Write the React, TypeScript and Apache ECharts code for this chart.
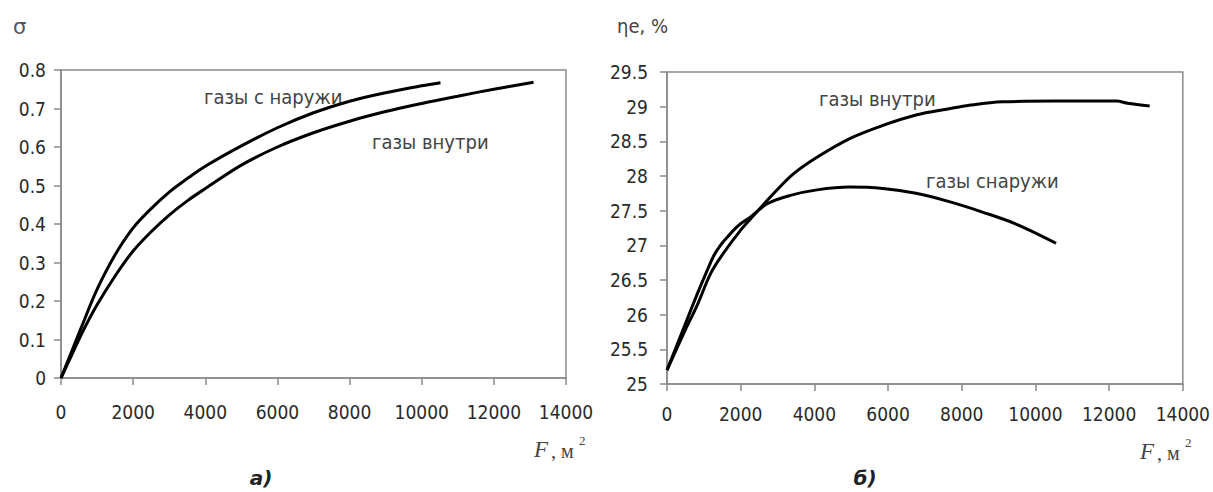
import React, { useEffect, useRef } from "react";
import * as echarts from "echarts";

// ---- data ----
const xTicks = [0, 2000, 4000, 6000, 8000, 10000, 12000, 14000];

// chart a) sigma vs F
const fOutsideA = [0, 300, 600, 1000, 1500, 2000, 2500, 3000, 3500, 4000, 5000, 6000, 7000, 8000, 9000, 10000, 10520];
const sigmaOutside = [0, 0.07, 0.14, 0.23, 0.32, 0.39, 0.44, 0.483, 0.518, 0.55, 0.603, 0.65, 0.689, 0.719, 0.741, 0.759, 0.767];
const fInsideA = [0, 300, 600, 1000, 1500, 2000, 2500, 3000, 3500, 4000, 5000, 6000, 7000, 8000, 9000, 10000, 11000, 12000, 13100];
const sigmaInside = [0, 0.06, 0.12, 0.19, 0.265, 0.33, 0.38, 0.423, 0.46, 0.492, 0.553, 0.6, 0.637, 0.667, 0.692, 0.713, 0.732, 0.75, 0.768];

// chart б) eta_e vs F
const fInsideB = [0, 470, 830, 1190, 1550, 2000, 2300, 2900, 3430, 4070, 4960, 5860, 6760, 7660, 8200, 9100, 10500, 12200, 12500, 13100];
const etaInside = [25.2, 25.75, 26.15, 26.6, 26.9, 27.22, 27.4, 27.75, 28.03, 28.27, 28.54, 28.73, 28.88, 28.97, 29.02, 29.07, 29.08, 29.08, 29.05, 29.01];
const fOutsideB = [0, 470, 830, 1100, 1280, 1450, 1640, 1950, 2270, 2720, 3350, 4070, 4960, 5860, 6760, 7660, 8560, 9460, 10560];
const etaOutside = [25.2, 25.83, 26.31, 26.65, 26.86, 27.0, 27.12, 27.29, 27.41, 27.6, 27.72, 27.8, 27.84, 27.82, 27.75, 27.63, 27.48, 27.31, 27.03];

const labelOutsideA = "газы с наружи";
const labelInsideA = "газы внутри";
const labelInsideB = "газы внутри";
const labelOutsideB = "газы снаружи";

const zip = (xs: number[], ys: number[]) => xs.map((x, i) => [x, ys[i]]);

const AXIS_GRAY = "#8a8a8a";
const TEXT = "#2a2a2a";
const FONT = '"DejaVu Sans Condensed", "DejaVu Sans", sans-serif';

function xAxis(gridIndex: number, margin: number) {
  return {
    type: "value",
    gridIndex,
    min: xTicks[0],
    max: xTicks[xTicks.length - 1],
    interval: 2000,
    axisLine: { show: true, lineStyle: { color: AXIS_GRAY, width: 1.5 } },
    axisTick: { show: true, inside: false, length: 7, lineStyle: { color: AXIS_GRAY, width: 1.5 } },
    axisLabel: { color: TEXT, fontFamily: FONT, fontSize: 19, margin, formatter: (v: number) => String(v) },
    splitLine: { show: false },
  };
}

function yAxis(gridIndex: number, min: number, max: number, interval: number, margin: number) {
  return {
    type: "value",
    gridIndex,
    min,
    max,
    interval,
    axisLine: { show: true, lineStyle: { color: AXIS_GRAY, width: 1.5 } },
    axisTick: { show: true, inside: false, length: 7, lineStyle: { color: AXIS_GRAY, width: 1.5 } },
    axisLabel: { color: TEXT, fontFamily: FONT, fontSize: 19, margin },
    splitLine: { show: false },
  };
}

function line(xi: number, yi: number, data: number[][]) {
  return {
    type: "line",
    xAxisIndex: xi,
    yAxisIndex: yi,
    data,
    smooth: 0.35,
    showSymbol: false,
    symbol: "none",
    lineStyle: { color: "#000", width: 3 },
  };
}

function txt(text: string, x: number, y: number, font: string, align = "left", fill = TEXT) {
  return {
    type: "text",
    x,
    y,
    style: { text, font, fill, textAlign: align, textVerticalAlign: "middle" },
  };
}

export default function App() {
  const ref = useRef<HTMLDivElement>(null);
  useEffect(() => {
    if (!ref.current) return;
    const chart = echarts.init(ref.current, undefined, { renderer: "svg" });
    const inFont = '20px "DejaVu Sans Condensed", "DejaVu Sans", sans-serif';
    chart.setOption({
      animation: false,
      backgroundColor: "#fff",
      grid: [
        { left: 61, top: 70, width: 505, height: 308, show: true, borderColor: AXIS_GRAY, borderWidth: 1.5 },
        { left: 667, top: 72, width: 519, height: 312, show: true, borderColor: AXIS_GRAY, borderWidth: 1.5 },
      ],
      xAxis: [xAxis(0, 24), xAxis(1, 20)],
      yAxis: [yAxis(0, 0, 0.8, 0.1, 15), yAxis(1, 25, 29.5, 0.5, 19)],
      series: [
        line(0, 0, zip(fOutsideA, sigmaOutside)),
        line(0, 0, zip(fInsideA, sigmaInside)),
        line(1, 1, zip(fInsideB, etaInside)),
        line(1, 1, zip(fOutsideB, etaOutside)),
      ],
      graphic: [
        txt("σ", 13, 27, '21px "DejaVu Sans", sans-serif', "left", "#555"),
        txt("ηe, %", 617, 26, '20px "DejaVu Sans Condensed", "DejaVu Sans", sans-serif', "left", "#444"),
        txt(labelOutsideA, 204, 97, inFont, "left", "#444"),
        txt(labelInsideA, 372, 142, inFont, "left", "#444"),
        txt(labelInsideB, 819, 99, inFont, "left", "#444"),
        txt(labelOutsideB, 926, 181, inFont, "left", "#444"),
        txt("F", 534, 449, 'italic 23px "Liberation Serif", serif', "left", "#444"),
        txt(", м", 551, 451, '20px "Liberation Serif", serif', "left", "#444"),
        txt("2", 579, 440, '13px "Liberation Serif", serif', "left", "#444"),
        txt("F", 1140, 451, 'italic 23px "Liberation Serif", serif', "left", "#444"),
        txt(", м", 1157, 453, '20px "Liberation Serif", serif', "left", "#444"),
        txt("2", 1185, 442, '13px "Liberation Serif", serif', "left", "#444"),
        txt("а)", 261, 478, 'italic bold 20px "DejaVu Sans", sans-serif', "center", "#222"),
        txt("б)", 865, 478, 'italic bold 20px "DejaVu Sans", sans-serif', "center", "#222"),
      ],
    });
    return () => chart.dispose();
  }, []);
  return (
    <div
      ref={ref}
      style={{ position: "fixed", left: 0, top: 0, width: 1213, height: 492, background: "#fff" }}
    />
  );
}
